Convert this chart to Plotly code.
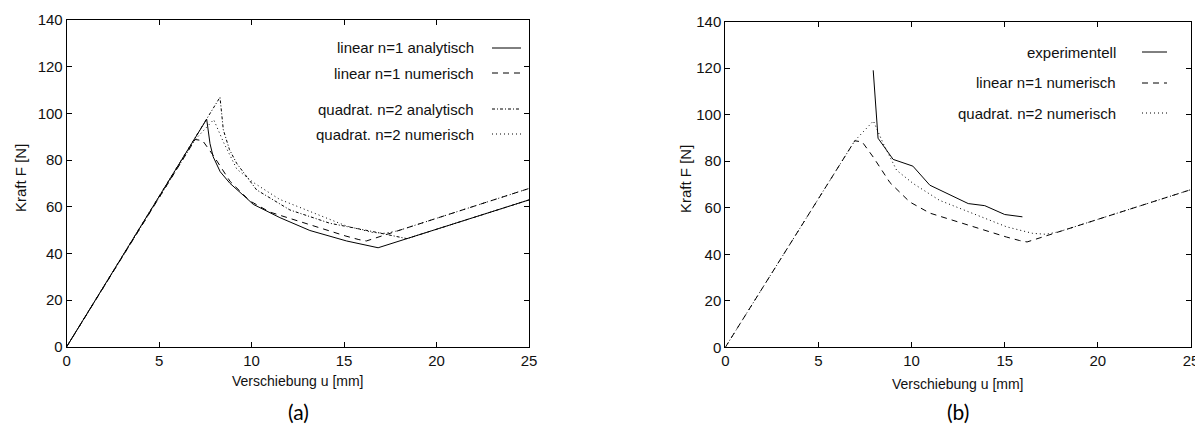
import plotly.graph_objects as go

# the page body has an 8px margin; the figure is sized and positioned to compensate
OFF = 8
FW, FH = 1203 - OFF, 438 - OFF

# ---------------- data ----------------
# (a)
u_lin_ana = [0, 7.57, 7.75, 7.92, 8.3, 8.83, 9.73, 10.09, 11.53, 13.15, 15.14, 16.84, 25]
F_lin_ana = [0, 97.5, 87.0, 81.4, 75.0, 70.0, 63.6, 61.0, 55.3, 49.8, 45.3, 42.4, 62.9]

u_lin_num = [0, 6.95, 7.35, 7.94, 8.84, 9.9, 10.98, 12.05, 13.3, 14.2, 15.1, 15.8, 16.2, 25]
F_lin_num = [0, 88.8, 88.3, 81.8, 70.8, 62.5, 57.7, 55.0, 51.8, 49.6, 47.4, 45.9, 45.3, 67.8]

u_quad_ana = [0, 8.29, 8.47, 8.8, 9.19, 10.27, 12.07, 14.23, 16.57, 17.5, 18.4, 25]
F_quad_ana = [0, 106.9, 92.9, 84.5, 78.6, 67.2, 58.6, 52.9, 49.3, 47.9, 46.3, 62.9]

u_quad_num = [0, 6.95, 7.95, 8.48, 9.2, 10.09, 11.5, 13.3, 15.1, 16.5, 17.2, 17.9, 25]
F_quad_num = [0, 88.8, 97.3, 87.6, 76.1, 70.4, 63.2, 57.5, 51.8, 49.0, 48.6, 49.65, 67.8]

# (b)
u_exp = [7.94, 8.2, 9.01, 10.07, 10.98, 13.04, 13.93, 15.0, 15.95]
F_exp = [119.1, 89.9, 80.8, 77.9, 69.7, 61.8, 60.9, 57.1, 56.1]

names_a = ["linear n=1 analytisch", "linear n=1 numerisch",
           "quadrat. n=2 analytisch", "quadrat. n=2 numerisch"]
names_b = ["experimentell", "linear n=1 numerisch", "quadrat. n=2 numerisch"]

x_ticks = [0, 5, 10, 15, 20, 25]
y_ticks = [0, 20, 40, 60, 80, 100, 120, 140]

x_title = "Verschiebung u [mm]"
y_title = "Kraft F [N]"
captions = ["(a)", "(b)"]

# ---------------- styles ----------------
SOLID = "solid"
DASH = "6px,5px"
DASHDOT = "3px,2px,1px,2px"
DOT = "1px,3px"
FONT = "Liberation Sans, Arial, sans-serif"
FS = 15

fig = go.Figure()

def add(x, y, dash, xa, ya):
    fig.add_trace(go.Scatter(x=x, y=y, mode="lines", xaxis=xa, yaxis=ya,
                             line=dict(color="black", width=1, dash=dash),
                             showlegend=False, hoverinfo="skip"))

# (a)
add(u_quad_ana, F_quad_ana, DASHDOT, "x", "y")
add(u_quad_num, F_quad_num, DOT, "x", "y")
add(u_lin_num, F_lin_num, DASH, "x", "y")
add(u_lin_ana, F_lin_ana, SOLID, "x", "y")
# (b)
add(u_quad_num, F_quad_num, DOT, "x2", "y2")
add(u_lin_num, F_lin_num, DASH, "x2", "y2")
add(u_exp, F_exp, SOLID, "x2", "y2")

def px(x):
    return (x - OFF) / FW

def py(y):
    return 1 - (y - OFF) / FH

axis_common = dict(showline=True, linecolor="black", linewidth=1, mirror="ticks",
                   ticks="inside", ticklen=5, tickcolor="black", showgrid=False,
                   zeroline=False, automargin=False,
                   tickfont=dict(family=FONT, size=FS, color="#111"))

fig.update_layout(
    width=FW, height=FH, margin=dict(l=0, r=0, t=0, b=0, pad=0, autoexpand=False),
    paper_bgcolor="white", plot_bgcolor="white",
    xaxis=dict(domain=[px(66.7), px(529)], range=[0, 25], tickvals=x_ticks,
               anchor="y", **axis_common),
    yaxis=dict(domain=[py(346.7), py(20)], range=[0, 140], tickvals=y_ticks,
               anchor="x", **axis_common),
    xaxis2=dict(domain=[px(725.3), px(1191)], range=[0, 25], tickvals=x_ticks,
                anchor="y2", **axis_common),
    yaxis2=dict(domain=[py(347.3), py(21.7)], range=[0, 140], tickvals=y_ticks,
                anchor="x2", **axis_common),
)

ann = []
shapes = []

def legend(names, dashes, rows, text_right, s0, s1):
    for n, d, r in zip(names, dashes, rows):
        ann.append(dict(x=px(text_right), y=py(r), xref="paper", yref="paper",
                        text=n, showarrow=False, xanchor="right", yanchor="middle",
                        font=dict(family=FONT, size=FS, color="#111")))
        shapes.append(dict(type="line", xref="paper", yref="paper",
                           x0=px(s0), x1=px(s1), y0=py(r), y1=py(r),
                           line=dict(color="black", width=1, dash=d)))

legend(names_a, [SOLID, DASH, DASHDOT, DOT], [48, 73, 109, 134], 476, 492, 521)
legend(names_b, [SOLID, DASH, DOT], [52, 83, 113], 1118, 1142, 1167)

for cx, cy in [(298, 381), (958, 384)]:
    ann.append(dict(x=px(cx), y=py(cy), xref="paper", yref="paper", text=x_title,
                    showarrow=False, xanchor="center", yanchor="middle",
                    font=dict(family=FONT, size=14, color="#111")))
for cx, cy in [(20, 178), (685, 179)]:
    ann.append(dict(x=px(cx), y=py(cy), xref="paper", yref="paper", text=y_title,
                    showarrow=False, xanchor="center", yanchor="middle", textangle=-90,
                    font=dict(family=FONT, size=FS, color="#111")))
for c, cx in zip(captions, [298, 958]):
    ann.append(dict(x=px(cx), y=py(411), xref="paper", yref="paper", text=c,
                    showarrow=False, xanchor="center", yanchor="middle",
                    font=dict(family="Lato, DejaVu Sans, sans-serif", size=21, color="black")))

fig.update_layout(annotations=ann, shapes=shapes)
fig.write_html("out.html")
